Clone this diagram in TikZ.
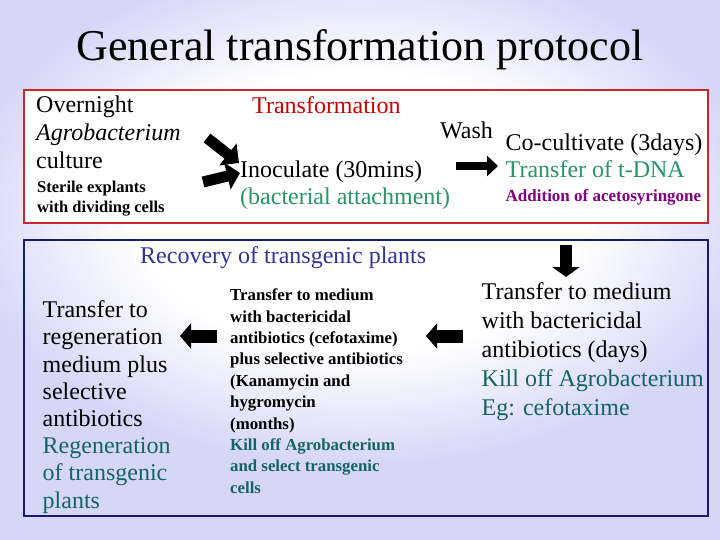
\documentclass[tikz,border=0pt]{standalone}
\usepackage{fontspec}
\setmainfont{Liberation Serif}
\usetikzlibrary{arrows.meta}

\definecolor{bglav}{RGB}{214,214,248}
\definecolor{boxred}{RGB}{200,40,45}
\definecolor{txtred}{RGB}{200,0,0}
\definecolor{txtgreen}{RGB}{40,150,100}
\definecolor{txtpurple}{RGB}{128,0,128}
\definecolor{txtnavy}{RGB}{51,51,153}
\definecolor{txtteal}{RGB}{20,100,100}
\definecolor{boxnavy}{RGB}{25,25,110}

\pgfdeclareradialshading{bgglow}{\pgfpoint{0bp}{0bp}}{color(0bp)=(white); color(14bp)=(white); color(25bp)=(bglav); color(50bp)=(bglav)}

\begin{document}
\begin{tikzpicture}[x=1pt, y=-1pt,
  every node/.style={inner sep=0pt, anchor=north west, align=left},
  bigtext/.style={font=\fontsize{24}{27.2}\selectfont},
  smalltext/.style={font=\fontsize{16.8}{21.4}\selectfont\bfseries},
  blockarrow/.style={line width=12pt, -{Triangle[length=11pt,width=25pt]}}]
  \useasboundingbox (0,0) rectangle (720,540);
  % background glow
  \fill[bglav] (0,0) rectangle (720,540);
  \shade[shading=bgglow] (-40,-40) rectangle (760,465);
  \node[anchor=base, font=\fontsize{44}{44}\selectfont] (title) at (360,61) {General transformation protocol};

  % transformation box
  \draw[boxred, fill=white, line width=1.2pt] (24,90) rectangle (708,223);
  \node[bigtext, font=\fontsize{24}{28}\selectfont] (culture) at (36,95.7) {Overnight\\\textit{Agrobacterium}\\culture};
  \node[smalltext, font=\fontsize{16.5}{20}\selectfont\bfseries] (explants) at (37,180.4) {Sterile explants\\with dividing cells};
  \node[bigtext, txtred] (transf) at (252,96.7) {Transformation};
  \node[bigtext, font=\fontsize{24}{27}\selectfont] (inoc) at (240,160.3) {Inoculate (30mins)\\\textcolor{txtgreen}{(bacterial attachment)}};
  \node[bigtext] (wash) at (440,121.6) {Wash};
  \node[bigtext, font=\fontsize{24}{27}\selectfont] (cocult) at (505.5,133.3) {Co-cultivate (3days)\\\textcolor{txtgreen}{Transfer of t-DNA}};
  \node[smalltext, font=\fontsize{17}{20}\selectfont\bfseries, txtpurple] (aceto) at (505.5,189.5) {Addition of acetosyringone};

  \coordinate (a1s) at (207,138);
  \coordinate (a1e) at (239,163);
  \coordinate (a2s) at (203,182);
  \coordinate (a2e) at (240,173);
  \coordinate (w1) at (456,166);
  \coordinate (w2) at (498,166);
  \draw[blockarrow, line width=11pt, -{Triangle[length=14pt,width=27pt]}] (a1s) -- (a1e);
  \draw[blockarrow, line width=11pt, -{Triangle[length=13pt,width=27pt]}] (a2s) -- (a2e);
  \draw[blockarrow, line width=8pt, -{Triangle[length=11pt,width=20pt]}] (w1) -- (w2);

  % recovery box
  \draw[boxnavy, line width=1.2pt] (24,240) rectangle (708,516);
  \node[bigtext, txtnavy] (recov) at (140,246.6) {Recovery of transgenic plants};
  \node[bigtext] (regen) at (42.5,300.6) {Transfer to\\regeneration\\medium plus\\selective\\antibiotics\\
    \textcolor{txtteal}{Regeneration}\\\textcolor{txtteal}{of transgenic}\\\textcolor{txtteal}{plants}};
  \node[smalltext] (select) at (230,288.6) {Transfer to medium\\with bactericidal\\antibiotics (cefotaxime)\\plus selective antibiotics\\(Kanamycin and\\hygromycin\\(months)\\
    \textcolor{txtteal}{Kill off Agrobacterium}\\\textcolor{txtteal}{and select transgenic}\\\textcolor{txtteal}{cells}};
  \node[bigtext, font=\fontsize{24}{29}\selectfont] (bacter) at (481.5,282.6) {Transfer to medium\\with bactericidal\\antibiotics (days)\\
    \textcolor{txtteal}{Kill off Agrobacterium}\\\textcolor{txtteal}{Eg: cefotaxime}};

  \coordinate (d1) at (566,245);
  \coordinate (d2) at (566,277);
  \coordinate (l1) at (463,336);
  \coordinate (l2) at (426,336);
  \coordinate (l3) at (217,336);
  \coordinate (l4) at (180,336);
  \draw[blockarrow, -{Triangle[length=10pt,width=27pt]}] (d1) -- (d2);
  \draw[blockarrow, line width=13pt] (l1) -- (l2);
  \draw[blockarrow, line width=13pt] (l3) -- (l4);
\end{tikzpicture}
\end{document}
